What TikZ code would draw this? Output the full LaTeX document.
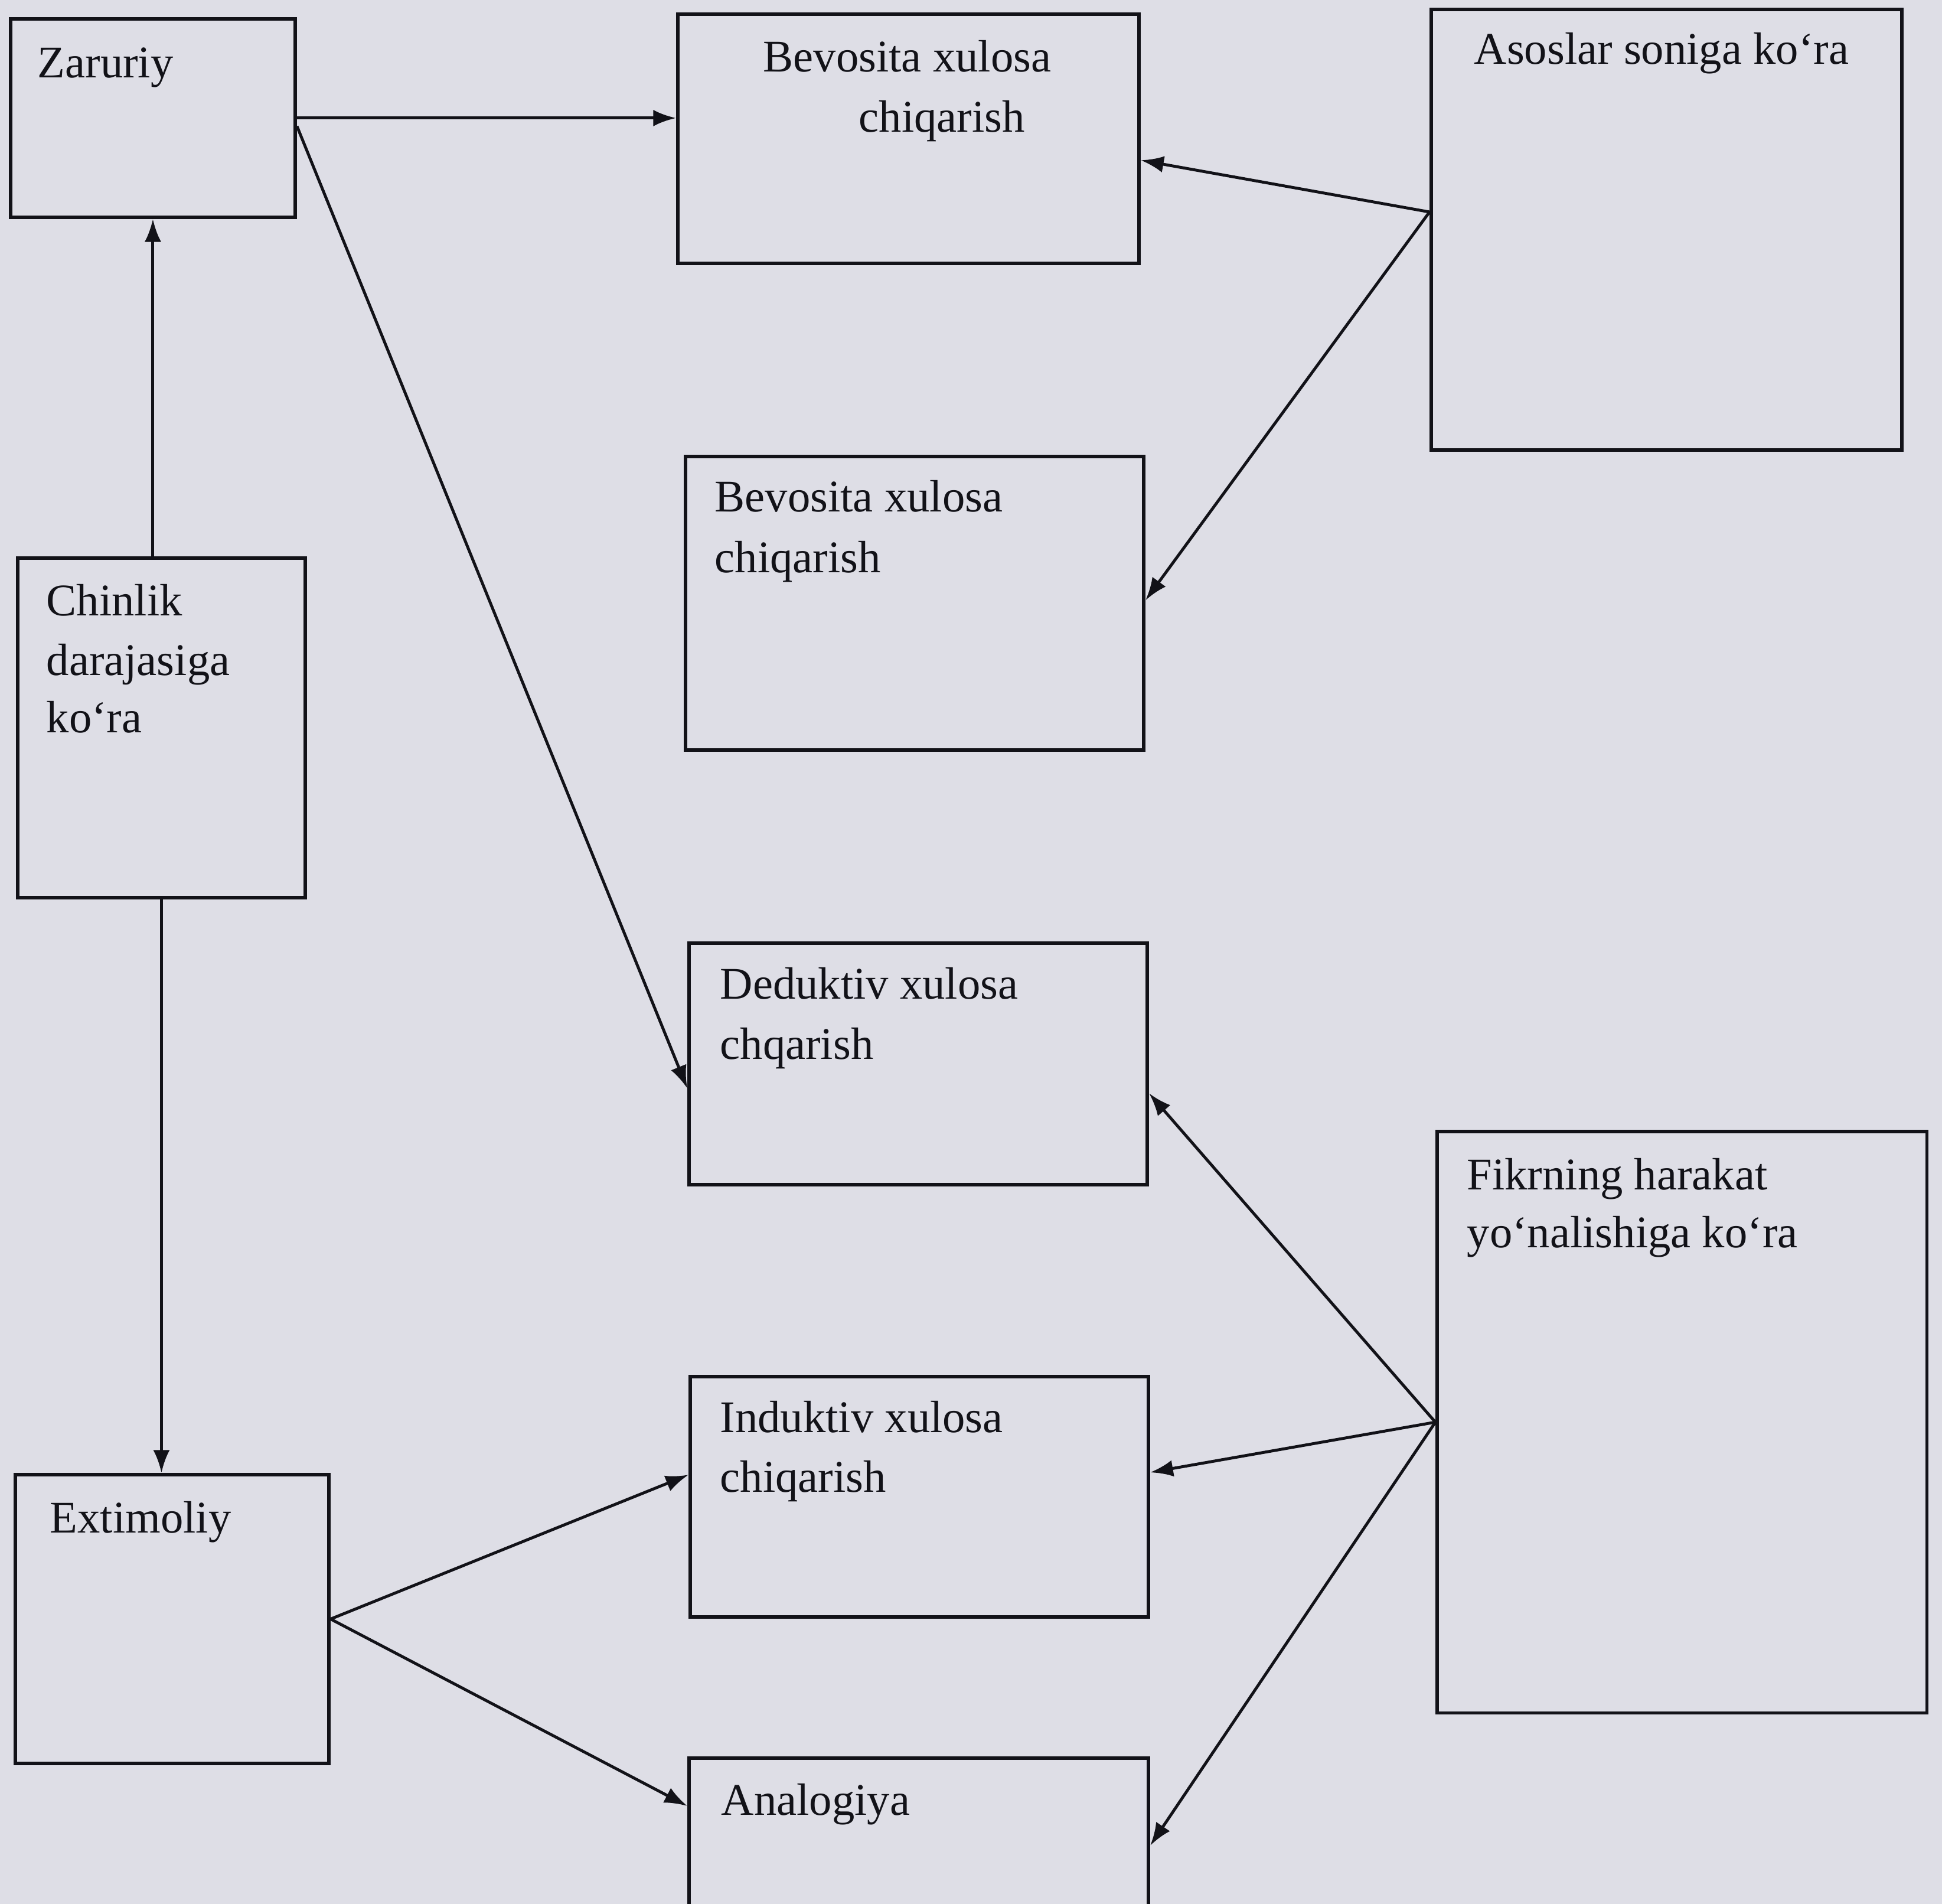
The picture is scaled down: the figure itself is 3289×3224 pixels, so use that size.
\documentclass[tikz,border=0pt]{standalone}
\usepackage{fontspec}
\setmainfont{Liberation Serif}
\usetikzlibrary{arrows.meta,calc}
\definecolor{bg}{RGB}{222,222,230}
\definecolor{ink}{RGB}{18,18,24}
\begin{document}
\begin{tikzpicture}[x=0.01cm,y=-0.01cm,
  box/.style={draw=ink,line width=1.6pt,rectangle,inner sep=0pt,anchor=north west},
  lbl/.style={anchor=base west,inner sep=0pt,text=ink,font=\fontsize{21.8}{29.3}\selectfont},
  arr/.style={draw=ink,line width=1.4pt,-{Latex[length=11pt,width=8pt]}}]
\fill[bg] (0,0) rectangle (3289,3224);
\clip (0,0) rectangle (3289,3224);
% boxes
\node[box,minimum width=4.82cm,minimum height=3.36cm] (zar) at (15,29) {};
\node[box,minimum width=7.81cm,minimum height=4.22cm] (bev1) at (1145,21) {};
\node[box,minimum width=7.97cm,minimum height=7.46cm] (aso) at (2421,13) {};
\node[box,minimum width=7.76cm,minimum height=4.97cm] (bev2) at (1158,770) {};
\node[box,minimum width=4.87cm,minimum height=5.75cm] (chin) at (27,942) {};
\node[box,minimum width=7.76cm,minimum height=4.09cm] (ded) at (1164,1594) {};
\node[box,minimum width=8.29cm,minimum height=9.84cm] (fik) at (2431,1913) {};
\node[box,minimum width=7.76cm,minimum height=4.07cm] (ind) at (1166,2328) {};
\node[box,minimum width=5.31cm,minimum height=4.89cm] (ext) at (23,2494) {};
\node[box,minimum width=7.78cm,minimum height=4.00cm] (ana) at (1164,2974) {};
% labels
\node[lbl] (zarT) at (63,132) {Zaruriy};
\node[lbl] (bev1a) at (1292,122) {Bevosita xulosa};
\node[lbl] (bev1b) at (1454,224) {chiqarish};
\node[lbl] (asoT) at (2496,109) {Asoslar soniga ko‘ra};
\node[lbl] (bev2a) at (1210,866) {Bevosita xulosa};
\node[lbl] (bev2b) at (1210,969) {chiqarish};
\node[lbl] (chinA) at (78,1042) {Chinlik};
\node[lbl] (chinB) at (78,1143) {darajasiga};
\node[lbl] (chinC) at (78,1240) {ko‘ra};
\node[lbl] (dedA) at (1219,1691) {Deduktiv xulosa};
\node[lbl] (dedB) at (1219,1793) {chqarish};
\node[lbl] (fikA) at (2484,2014) {Fikrning harakat};
\node[lbl] (fikB) at (2484,2112) {yo‘nalishiga ko‘ra};
\node[lbl] (indA) at (1219,2425) {Induktiv xulosa};
\node[lbl] (indB) at (1219,2526) {chiqarish};
\node[lbl] (extT) at (84,2595) {Extimoliy};
\node[lbl] (anaT) at (1221,3073) {Analogiya};
% anchor points
\coordinate (zarD) at ($(zar.north east)!0.54!(zar.south east)$);
\coordinate (asoL) at ($(aso.north west)!0.46!(aso.south west)$);
% connectors
\draw[arr] (chin.north -| zar.south) -- (zar.south);
\draw[arr] (chin.south) -- (chin.south |- ext.north);
\draw[arr] (zar.east) -- (zar.east -| bev1.west);
\draw[arr] (zarD) -- ($(ded.north west)!0.6!(ded.south west)$);
\draw[arr] (asoL) -- ($(bev1.north east)!0.585!(bev1.south east)$);
\draw[arr] (asoL) -- ($(bev2.north east)!0.49!(bev2.south east)$);
\draw[arr] (fik.west) -- ($(ded.north east)!0.62!(ded.south east)$);
\draw[arr] (fik.west) -- ($(ind.north east)!0.40!(ind.south east)$);
\draw[arr] (fik.west) -- ($(ana.north east)+(0,151)$);
\draw[arr] (ext.east) -- ($(ind.north west)!0.41!(ind.south west)$);
\draw[arr] (ext.east) -- ($(ana.north west)+(0,84)$);
\end{tikzpicture}
\end{document}
